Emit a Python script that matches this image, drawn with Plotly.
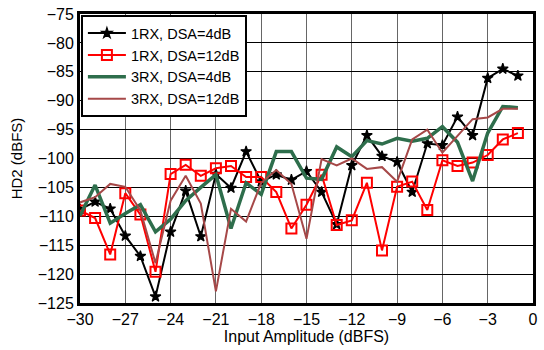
import plotly.graph_objects as go

x = list(range(-30, 0))

rx1_dsa4 = [-108.8, -107.5, -108.7, -113.4, -116.9, -123.9, -112.7, -105.6, -113.5, -102.7,
            -105.1, -98.8, -104.0, -102.8, -103.7, -102.2, -105.8, -111.4, -101.2, -96.0,
            -99.6, -100.6, -105.8, -97.4, -97.7, -92.8, -96.0, -86.1, -84.5, -85.7]
rx1_dsa12 = [-109.0, -110.3, -116.6, -106.0, -109.7, -119.6, -102.7, -101.1, -103.0, -101.7,
             -101.3, -103.2, -103.2, -105.8, -112.1, -108.0, -102.8, -111.5, -110.7, -104.2,
             -115.9, -104.9, -104.0, -108.9, -100.3, -101.3, -100.7, -99.4, -96.7, -95.6]
rx3_dsa4 = [-109.9, -104.6, -111.2, -109.5, -108.0, -112.7, -110.5, -107.3, -105.0, -102.8,
            -112.1, -104.2, -106.2, -98.8, -98.8, -103.4, -103.6, -98.0, -99.7, -96.9,
            -97.5, -96.5, -97.0, -96.5, -94.5, -97.2, -103.9, -95.6, -91.0, -91.2]
rx3_dsa12 = [-107.6, -106.7, -104.4, -104.9, -109.0, -118.1, -107.3, -103.0, -107.8, -123.0,
             -108.7, -110.9, -104.2, -102.0, -104.4, -113.9, -100.1, -101.2, -100.0, -101.8,
             -101.5, -104.0, -96.7, -95.0, -99.0, -96.1, -93.2, -92.9, -91.4, -91.4]

x_ticks = list(range(-30, 1, 3))
y_ticks = list(range(-125, -74, 5))

fig = go.Figure()
fig.add_trace(go.Scatter(x=x, y=rx1_dsa4, name="1RX, DSA=4dB", mode="lines+markers",
                         line=dict(color="black", width=2),
                         marker=dict(symbol="star", size=8, color="black",
                                     line=dict(width=1.2, color="black"))))
fig.add_trace(go.Scatter(x=x, y=rx1_dsa12, name="1RX, DSA=12dB", mode="lines+markers",
                         line=dict(color="#ff0000", width=2),
                         marker=dict(symbol="square-open", size=10, color="#ff0000",
                                     line=dict(width=2, color="#ff0000"))))
fig.add_trace(go.Scatter(x=x, y=rx3_dsa4, name="3RX, DSA=4dB", mode="lines",
                         line=dict(color="#2e6e4c", width=3.5)))
fig.add_trace(go.Scatter(x=x, y=rx3_dsa12, name="3RX, DSA=12dB", mode="lines",
                         line=dict(color="#a64848", width=2)))

font_family = "Liberation Sans, Arial, sans-serif"
fig.update_layout(
    width=544, height=350,
    margin=dict(l=80, r=6, t=12, b=47),
    paper_bgcolor="white", plot_bgcolor="white",
    font=dict(family=font_family, size=16, color="black"),
    showlegend=True,
    legend=dict(x=0.002, y=0.996, xanchor="left", yanchor="top",
                bgcolor="white", bordercolor="black", borderwidth=2,
                font=dict(size=14.5, family=font_family, color="black"),
                tracegroupgap=0, itemwidth=38),
    xaxis=dict(range=[-30, 0], tickvals=x_ticks, ticks="", showgrid=True,
               gridcolor="#666666", gridwidth=1, zeroline=False,
               showline=True, linecolor="black", linewidth=3, mirror=True,
               title=dict(text="Input Amplitude (dBFS)", standoff=0,
                          font=dict(size=16)),
               tickfont=dict(size=16)),
    yaxis=dict(range=[-125, -75], tickvals=y_ticks, ticks="", showgrid=True,
               gridcolor="black", gridwidth=1, zeroline=False,
               showline=True, linecolor="black", linewidth=3, mirror=True,
               title=dict(text="HD2 (dBFS)", standoff=12, font=dict(size=15)),
               tickfont=dict(size=16)),
)

fig.write_html("out.html", config={"displayModeBar": False},
               post_script="document.body.style.margin='0';")
